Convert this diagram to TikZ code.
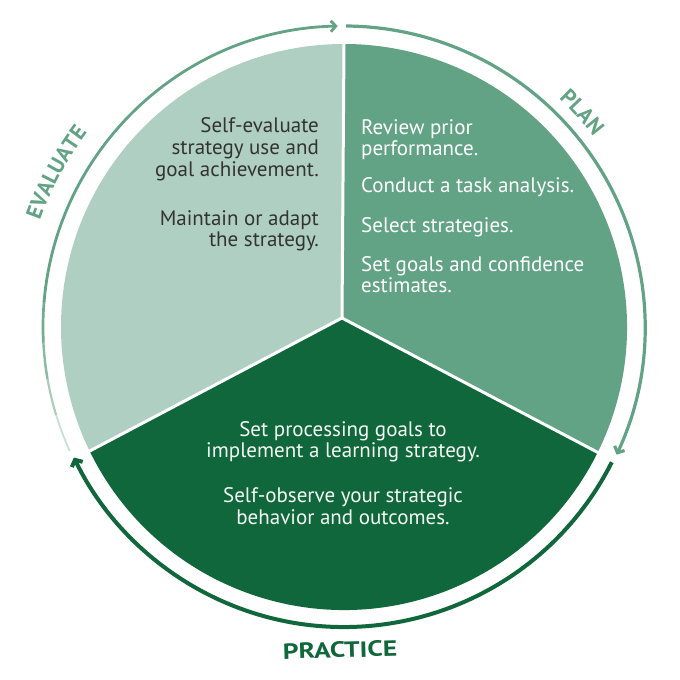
\documentclass[tikz,border=0pt]{standalone}
\usepackage{fontspec}
\setmainfont{PT Sans}
\usetikzlibrary{arrows.meta,decorations.text,calc}
\definecolor{lightc}{HTML}{AFCFC3}
\definecolor{planc}{HTML}{62A386}
\definecolor{darkc}{HTML}{10673B}
\definecolor{evtext}{HTML}{333333}
\definecolor{practext}{HTML}{F4F8F5}
\newcommand\bodyfont{\fontsize{21}{23}\selectfont}
\newcommand\labelfont{\fontsize{22}{22}\selectfont\bfseries}
\tikzset{
  evtxt/.style={font=\bodyfont, text=evtext, inner sep=0pt, anchor=base east},
  pltxt/.style={font=\bodyfont, text=white, inner sep=0pt, anchor=base west},
  prtxt/.style={font=\bodyfont, text=practext, inner sep=0pt, anchor=base},
  divider/.style={white, line width=3pt},
  barb/.style={-{Straight Barb[length=5pt,width=11pt]}}
}
\begin{document}
\begin{tikzpicture}[x=1pt,y=1pt]
\useasboundingbox[fill=white] (0,0) rectangle (680,680);
\coordinate (C) at (344,353);
\coordinate (V) at (342,362);
\coordinate (Btop) at ($(C)+(90:283pt)$);
\coordinate (Bleft) at ($(C)+(206:283pt)$);
\coordinate (Bright) at ($(C)+(-26.3:283pt)$);
% sectors
\fill[lightc] (V) -- (Btop) arc[start angle=90,end angle=206,radius=283pt] -- cycle;
\fill[planc] (V) -- (Bright) arc[start angle=-26.3,end angle=90,radius=283pt] -- cycle;
\fill[darkc] (V) -- (Bleft) arc[start angle=206,end angle=333.7,radius=283pt] -- cycle;
\draw[divider] (V) -- ($(V)!1.02!(Btop)$);
\draw[divider] (V) -- ($(V)!1.02!(Bleft)$);
\draw[divider] (V) -- ($(V)!1.02!(Bright)$);
% ring: evaluate (fading in from light)
\foreach \a/\b/\c/\w in {204.3/197/35/1.8, 197/190/55/2.1, 190/183/75/2.4, 183/175/90/2.7}
  \draw[planc!\c!white, line width=\w pt] ($(C)+(\a:301pt)$) arc[start angle=\a, end angle=\b, radius=301pt];
\draw[planc, line width=2.8pt, barb] ($(C)+(175.2:301pt)$) arc[start angle=175.2, end angle=91.2, radius=301pt];
% ring: plan
\draw[planc, line width=3.2pt, barb] ($(C)+(89.6:301pt)$) arc[start angle=89.6, end angle=-25.1, radius=301pt];
% ring: practice
\draw[darkc, line width=4pt, -{Straight Barb[length=5pt,width=12pt]}] ($(C)+(-26.8:300pt)$) arc[start angle=-26.8, end angle=-154.2, radius=300pt];
% labels
\path[decorate, decoration={text along path, text align=center, text={|\labelfont\color{planc}|EVALUATE}}]
  ($(C)+(176.8:322pt)$) arc[start angle=176.8, end angle=126.8, radius=322pt];
\path[decorate, decoration={text along path, text align=center, text={|\labelfont\color{planc}|PLAN}}]
  ($(C)+(67:313.5pt)$) arc[start angle=67, end angle=17, radius=313.5pt];
\node[font=\labelfont, text=darkc, inner sep=0pt, rotate=1.7, xscale=1.25] (practice) at (340,30) {PRACTICE};
% evaluate text
\node[evtxt] (e1) at (319,547) {Self-evaluate};
\node[evtxt] (e2) at (319,525) {strategy use and};
\node[evtxt] (e3) at (319,503) {goal achievement.};
\node[evtxt] (e4) at (319,454) {Maintain or adapt};
\node[evtxt] (e5) at (319,433) {the strategy.};
% plan text
\node[pltxt] (p1) at (361,545) {Review prior};
\node[pltxt] (p2) at (361,524) {performance.};
\node[pltxt] (p3) at (361,487) {Conduct a task analysis.};
\node[pltxt] (p4) at (361,447) {Select strategies.};
\node[pltxt] (p5) at (361,408) {Set goals and confidence};
\node[pltxt] (p6) at (361,387) {estimates.};
% practice text
\node[prtxt] (r1) at (343,243) {Set processing goals to};
\node[prtxt] (r2) at (343,222) {implement a learning strategy.};
\node[prtxt] (r3) at (343,177) {Self-observe your strategic};
\node[prtxt] (r4) at (343,155) {behavior and outcomes.};
\end{tikzpicture}
\end{document}
